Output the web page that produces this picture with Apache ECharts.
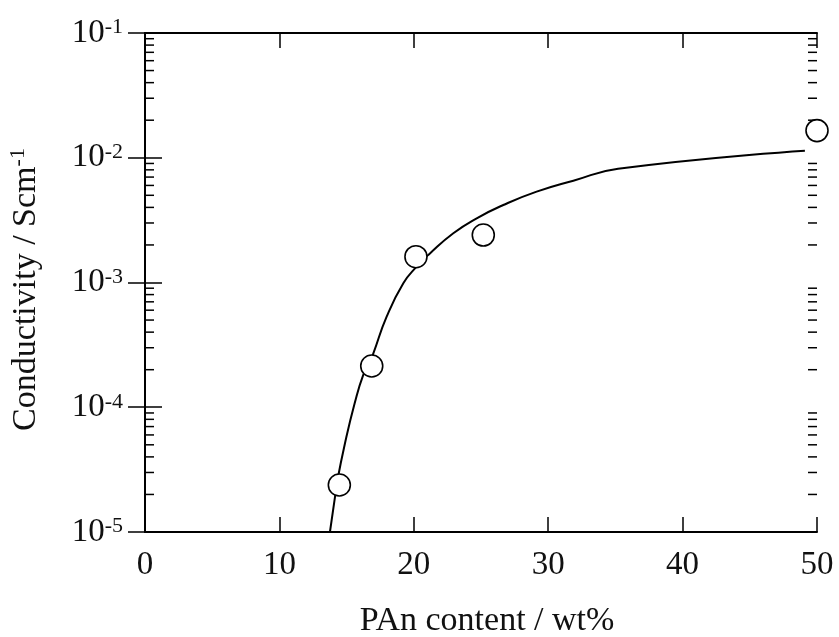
<!DOCTYPE html>
<html><head><meta charset="utf-8">
<script src="https://cdn.jsdelivr.net/npm/echarts@6/dist/echarts.min.js"></script>
<style>html,body{margin:0;padding:0;background:#fff}#c{width:839px;height:637px}</style>
</head><body><div id="c"></div>
<script>
// Fitted curve
const curveX = [13.76, 14.14, 14.26, 14.88, 15.6, 16.24, 16.62, 16.99, 17.98, 19.22, 20.21, 21.2, 22.94, 24.68, 26.66, 29.14, 31.87, 35.2, 49.1];
const curveY = [1.0e-5, 1.92e-5, 2.41e-5, 5.14e-5, 1.076e-4, 1.816e-4, 2.14e-4, 2.70e-4, 5.32e-4, 9.86e-4, 1.34e-3, 1.71e-3, 2.48e-3, 3.27e-3, 4.18e-3, 5.35e-3, 6.55e-3, 8.17e-3, 1.14e-2];
// Measured points
const pointX = [14.46, 16.87, 20.16, 25.17, 50.0];
const pointY = [2.38e-5, 2.14e-4, 1.61e-3, 2.40e-3, 1.65e-2];
// Axis ticks
const xTicks = [0, 10, 20, 30, 40, 50];
const yDecades = [-5, -4, -3, -2, -1];
const yMinorMultipliers = [2, 3, 4, 5, 6, 7, 8, 9];

const yMinor = [];
for (let i = 0; i < yDecades.length - 1; i++) {
  for (const m of yMinorMultipliers) yMinor.push([0, m * Math.pow(10, yDecades[i])]);
}

const FONT = 'Liberation Serif';
const chart = echarts.init(document.getElementById('c'), null, {renderer: 'canvas'});

const axisLineStyle = {color: '#000', width: 2};
const tickStyle = {color: '#000', width: 1.5};

chart.setOption({
  animation: false,
  backgroundColor: '#fff',
  grid: {left: 145, right: 22, top: 33, bottom: 105, containLabel: false, outerBoundsMode: 'none'},
  xAxis: [{
    type: 'value', min: xTicks[0], max: xTicks[xTicks.length - 1], interval: 10,
    position: 'bottom',
    axisLine: {show: true, lineStyle: axisLineStyle},
    axisTick: {show: true, inside: true, length: 15, lineStyle: tickStyle},
    splitLine: {show: false},
    axisLabel: {margin: 17, fontFamily: FONT, fontSize: 33, color: '#111'},
    name: 'PAn content / wt%', nameLocation: 'middle', nameGap: 72,
    nameTextStyle: {fontFamily: FONT, fontSize: 34, color: '#111', padding: [0, 0, 0, 12]}
  }, {
    type: 'value', min: xTicks[0], max: xTicks[xTicks.length - 1], interval: 10,
    position: 'top',
    axisLine: {show: true, lineStyle: axisLineStyle},
    axisTick: {show: true, inside: true, length: 15, lineStyle: tickStyle},
    splitLine: {show: false},
    axisLabel: {show: false}
  }],
  yAxis: [{
    type: 'log', logBase: 10, min: 1e-5, max: 1e-1, interval: 1,
    position: 'left',
    axisLine: {show: true, lineStyle: axisLineStyle},
    axisTick: {show: true, inside: true, length: 17, lineStyle: tickStyle},
    minorTick: {show: false},
    splitLine: {show: false},
    axisLabel: {
      margin: 22,
      formatter: function (v) {
        const e = Math.round(Math.log10(v));
        return '{b|10}{s|' + e + '}';
      },
      rich: {
        b: {fontFamily: FONT, fontSize: 33, color: '#111', lineHeight: 33, verticalAlign: 'bottom'},
        s: {fontFamily: FONT, fontSize: 22, color: '#111', lineHeight: 33, verticalAlign: 'top', padding: [0, 0, 20, 0]}
      }
    },
    name: 'Conductivity / Scm{s|-1}', nameLocation: 'middle', nameGap: 100, nameRotate: 90,
    nameTextStyle: {
      fontFamily: FONT, fontSize: 34, color: '#111', padding: [0, 14, 0, 0],
      rich: {s: {fontFamily: FONT, fontSize: 22, color: '#111', padding: [0, 0, 16, 0]}}
    }
  }, {
    type: 'log', logBase: 10, min: 1e-5, max: 1e-1, interval: 1,
    position: 'right',
    axisLine: {show: true, lineStyle: axisLineStyle},
    axisTick: {show: true, inside: true, length: 17, lineStyle: tickStyle},
    splitLine: {show: false},
    axisLabel: {show: false}
  }],
  series: [{
    type: 'line',
    data: curveX.map((x, i) => [x, curveY[i]]),
    showSymbol: false, symbol: 'none',
    smooth: 0.5,
    lineStyle: {color: '#000', width: 2},
    z: 2
  }, {
    type: 'scatter',
    data: pointX.map((x, i) => [x, pointY[i]]),
    symbol: 'circle', symbolSize: 22,
    itemStyle: {color: '#fff', borderColor: '#000', borderWidth: 1.6, opacity: 1},
    z: 5
  }, {
    type: 'custom',
    data: yMinor,
    encode: {x: 0, y: 1},
    silent: true, clip: false, z: 3,
    renderItem: function (params, api) {
      const v = api.value(1);
      const pl = api.coord([xTicks[0], v]);
      const pr = api.coord([xTicks[xTicks.length - 1], v]);
      return {
        type: 'group',
        children: [
          {type: 'line', shape: {x1: pl[0], y1: pl[1], x2: pl[0] + 9, y2: pl[1]}, style: {stroke: '#000', lineWidth: 1.5}},
          {type: 'line', shape: {x1: pr[0] - 9, y1: pr[1], x2: pr[0], y2: pr[1]}, style: {stroke: '#000', lineWidth: 1.5}}
        ]
      };
    }
  }]
});
</script>
</body></html>
